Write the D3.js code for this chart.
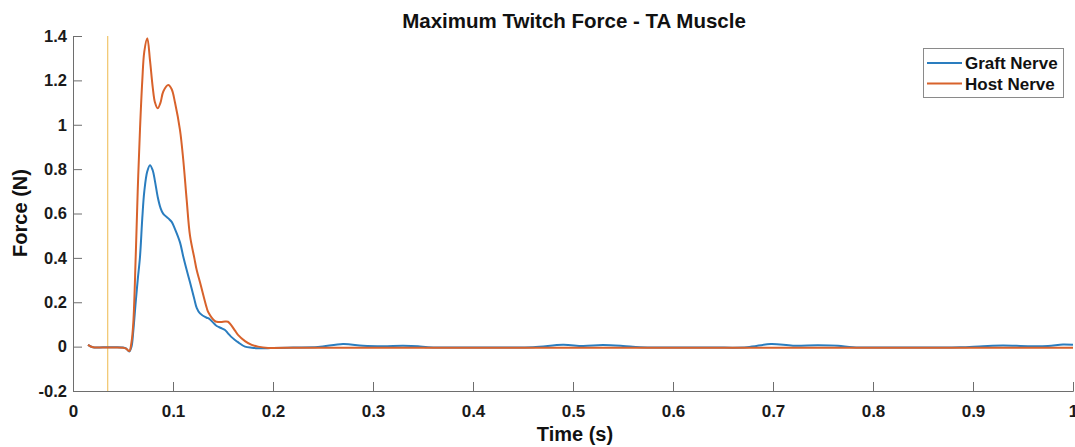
<!DOCTYPE html>
<html>
<head>
<meta charset="utf-8">
<script src="https://cdn.jsdelivr.net/npm/d3@7"></script>
<style>
  html, body { margin: 0; padding: 0; background: #fff; }
  svg { display: block; font-family: "Liberation Sans", Arial, Helvetica, sans-serif; }
</style>
</head>
<body>
<svg id="chart" width="1075" height="447"></svg>
<script>
// ---- data ----
const time = [0.015,0.02,0.03,0.04,0.05,0.053,0.0563,0.0585,0.0603,0.0627,0.0647,0.067,0.0693,0.0713,0.0743,0.077,0.0797,0.082,0.0847,0.0875,0.0903,0.0953,0.0987,0.102,0.107,0.1103,0.1137,0.117,0.1213,0.1237,0.127,0.1337,0.1353,0.142,0.1437,0.148,0.152,0.155,0.158,0.162,0.165,0.172,0.1787,0.185,0.195,0.2,0.22,0.245,0.27,0.29,0.31,0.33,0.345,0.355,0.38,0.42,0.46,0.49,0.51,0.53,0.55,0.567,0.6,0.64,0.674,0.698,0.72,0.745,0.765,0.78,0.82,0.86,0.887,0.91,0.93,0.955,0.975,0.99,1.0];

const graftNerve = [0.008,-0.003,-0.003,-0.003,-0.004,-0.008,-0.022,0.0,0.07,0.2,0.3,0.405,0.58,0.7,0.79,0.818,0.795,0.745,0.675,0.625,0.598,0.578,0.562,0.53,0.47,0.405,0.345,0.29,0.215,0.175,0.15,0.13,0.128,0.1,0.093,0.084,0.075,0.06,0.045,0.03,0.02,0.0,-0.005,-0.007,-0.007,-0.006,-0.004,-0.002,0.012,0.004,0.002,0.004,0.002,-0.003,-0.004,-0.004,-0.003,0.008,0.003,0.007,0.003,-0.003,-0.004,-0.004,-0.003,0.012,0.004,0.006,0.004,-0.003,-0.004,-0.004,-0.003,0.002,0.005,0.002,0.003,0.01,0.008];

const hostNerve = [0.008,-0.003,-0.004,-0.004,-0.005,-0.009,-0.02,0.02,0.107,0.405,0.7,0.98,1.2,1.33,1.39,1.29,1.17,1.1,1.074,1.1,1.15,1.179,1.16,1.1,0.976,0.84,0.66,0.5,0.40,0.345,0.29,0.175,0.155,0.115,0.112,0.111,0.113,0.112,0.098,0.072,0.053,0.025,0.008,0.0,-0.006,-0.006,-0.005,-0.005,-0.005,-0.005,-0.005,-0.005,-0.005,-0.005,-0.005,-0.005,-0.005,-0.005,-0.005,-0.005,-0.005,-0.005,-0.005,-0.005,-0.005,-0.005,-0.005,-0.005,-0.005,-0.005,-0.005,-0.005,-0.005,-0.005,-0.005,-0.005,-0.005,-0.005,-0.005];

const seriesNames = ["Graft Nerve", "Host Nerve"];
const xTicks = [0,0.1,0.2,0.3,0.4,0.5,0.6,0.7,0.8,0.9,1];
const yTicks = [-0.2,0,0.2,0.4,0.6,0.8,1,1.2,1.4];
const stimulusTime = 0.0347;
const titleText = "Maximum Twitch Force - TA Muscle";
const xLabel = "Time (s)";
const yLabel = "Force (N)";

// ---- layout ----
const colors = ["#2a7dbf", "#d8622b"];
const svg = d3.select("#chart");
const plotLeft = 73, plotRight = 1073, plotTop = 36, plotBottom = 391;

const x = d3.scaleLinear().domain([0, 1]).range([plotLeft, plotRight]);
const y = d3.scaleLinear().domain([-0.2, 1.4]).range([plotBottom, plotTop]);

const fmt = d => (d === 0 ? "0" : String(+d.toFixed(1)));

// axes
const xAxis = svg.append("g").attr("transform", `translate(0,${plotBottom})`)
  .call(d3.axisBottom(x).tickValues(xTicks).tickSize(-9).tickPadding(14).tickFormat(fmt));
const yAxis = svg.append("g").attr("transform", `translate(${plotLeft},0)`)
  .call(d3.axisLeft(y).tickValues(yTicks).tickSize(-9).tickPadding(6).tickFormat(fmt));

[xAxis, yAxis].forEach(g => {
  g.select(".domain").attr("stroke", "#6e6e6e").attr("stroke-width", 1);
  g.selectAll(".tick line").attr("stroke", "#6e6e6e");
  g.selectAll(".tick text").attr("fill", "#1a1a1a").attr("font-weight", "bold")
    .attr("font-family", "'Liberation Sans', Arial, sans-serif");
});
xAxis.selectAll(".tick text").attr("font-size", 17);
yAxis.selectAll(".tick text").attr("font-size", 16.5);

// stimulus marker
svg.append("line")
  .attr("x1", x(stimulusTime)).attr("x2", x(stimulusTime))
  .attr("y1", plotTop).attr("y2", plotBottom)
  .attr("stroke", "#f1c56a").attr("stroke-width", 1.2);

// lines
const data = [graftNerve, hostNerve];
const line = d3.line()
  .x((d, i) => x(time[i]))
  .y(d => y(d))
  .curve(d3.curveCatmullRom.alpha(0.5));

data.forEach((vals, k) => {
  svg.append("path")
    .attr("d", line(vals))
    .attr("fill", "none")
    .attr("stroke", colors[k])
    .attr("stroke-width", 2)
    .attr("stroke-linejoin", "round");
});

// title and labels
svg.append("text").attr("x", 574).attr("y", 28).attr("text-anchor", "middle")
  .attr("font-size", 20.5).attr("font-weight", "bold").attr("fill", "#111").text(titleText);
svg.append("text").attr("x", 575).attr("y", 441).attr("text-anchor", "middle")
  .attr("font-size", 20).attr("font-weight", "bold").attr("fill", "#111").text(xLabel);
svg.append("text").attr("transform", "translate(27,213) rotate(-90)").attr("text-anchor", "middle")
  .attr("font-size", 20).attr("font-weight", "bold").attr("fill", "#111").text(yLabel);

// legend
const lg = svg.append("g");
lg.append("rect").attr("x", 923.5).attr("y", 48.5).attr("width", 140).attr("height", 49)
  .attr("fill", "#fff").attr("stroke", "#8a8a8a").attr("stroke-width", 1);
seriesNames.forEach((name, k) => {
  const cy = 63 + k * 20.5;
  lg.append("line").attr("x1", 927).attr("x2", 962).attr("y1", cy).attr("y2", cy)
    .attr("stroke", colors[k]).attr("stroke-width", 2);
  lg.append("text").attr("x", 965).attr("y", cy + 6).attr("font-size", 17)
    .attr("font-weight", "bold").attr("fill", "#111").text(name);
});
</script>
</body>
</html>
